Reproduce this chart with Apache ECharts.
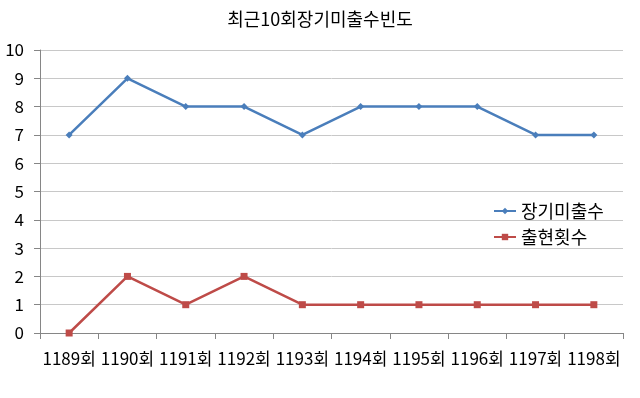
<!DOCTYPE html>
<html>
<head>
<meta charset="UTF-8">
<title>최근10회장기미출수빈도</title>
<script src="https://cdn.jsdelivr.net/npm/echarts@6/dist/echarts.min.js"></script>
<style>
body { margin: 0; padding: 0; background: #fff; }
#main { width: 640px; height: 398px; }
</style>
</head>
<body>
<div id="main"></div>
<script>
var categories = ['1189회', '1190회', '1191회', '1192회', '1193회', '1194회', '1195회', '1196회', '1197회', '1198회'];
var missCount = [7, 9, 8, 8, 7, 8, 8, 8, 7, 7];   // 장기미출수
var hitCount = [0, 2, 1, 2, 1, 1, 1, 1, 1, 1];    // 출현횟수

var chart = echarts.init(document.getElementById('main'));
var font = '"Noto Sans CJK KR", "Noto Sans", sans-serif';

chart.setOption({
	animation: false,
	title: {
		text: '최근10회장기미출수빈도',
		left: 'center',
		top: 5,
		textStyle: { fontFamily: font, fontSize: 18, fontWeight: 'normal', color: '#000' }
	},
	legend: {
		orient: 'vertical',
		left: 488,
		top: 197,
		itemGap: 8,
		itemWidth: 22,
		itemHeight: 8,
		textStyle: { fontFamily: font, fontSize: 18, color: '#000' },
		data: ['장기미출수', '출현횟수']
	},
	grid: { left: 40, right: 17, top: 50, bottom: 65 },
	xAxis: {
		type: 'category',
		data: categories,
		boundaryGap: true,
		axisLine: { lineStyle: { color: '#868686' } },
		axisTick: { show: true, length: 6, lineStyle: { color: '#868686' } },
		axisLabel: { interval: 0, margin: 17, fontFamily: font, fontSize: 17, color: '#000' }
	},
	yAxis: {
		type: 'value',
		min: 0,
		max: 10,
		interval: 1,
		axisLine: { show: true, lineStyle: { color: '#868686' } },
		axisTick: { show: true, length: 6, lineStyle: { color: '#868686' } },
		axisLabel: { margin: 16, fontFamily: font, fontSize: 17, color: '#000' },
		splitLine: { lineStyle: { color: '#c8c8c8' } }
	},
	series: [
		{
			name: '장기미출수',
			type: 'line',
			data: missCount,
			symbol: 'diamond',
			symbolSize: 7,
			itemStyle: { color: '#4a7ebb' },
			lineStyle: { width: 2.5, color: '#4a7ebb' }
		},
		{
			name: '출현횟수',
			type: 'line',
			data: hitCount,
			symbol: 'rect',
			symbolSize: 7,
			itemStyle: { color: '#be4b48' },
			lineStyle: { width: 2.5, color: '#be4b48' }
		}
	]
});
</script>
</body>
</html>
